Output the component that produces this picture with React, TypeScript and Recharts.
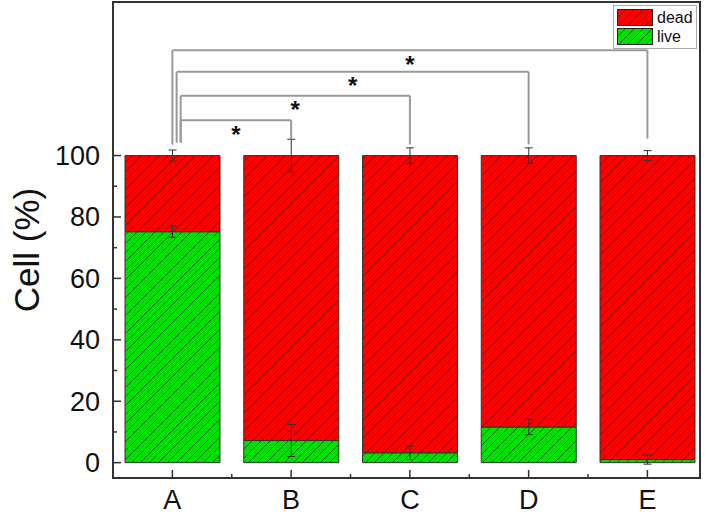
import React from "react";
import {
  BarChart,
  Bar,
  XAxis,
  YAxis,
  ErrorBar,
  ReferenceLine,
  ReferenceArea,
  ReferenceDot,
  Legend,
} from "recharts";

const categories = ["A", "B", "C", "D", "E"];
const liveValues = [75.2, 7.2, 3.2, 11.6, 1.0];
const liveErrors = [1.8, 5.2, 2.2, 2.5, 1.5];
const deadValues = [24.8, 92.8, 96.8, 88.4, 99.0];
const deadErrors = [1.8, 5.3, 2.5, 2.5, 1.6];
const yTicks = [0, 10, 20, 30, 40, 50, 60, 70, 80, 90, 100];
const xTicks = [1, 1.5, 2, 2.5, 3, 3.5, 4, 4.5, 5];

// significance brackets (A vs B..E), in data units
const bracketFrom = [1.07, 1.07, 1.036, 1.0];
const bracketTo = [2, 3, 4, 5];
const bracketLevel = [111.5, 119.5, 127.3, 134.3];
const bracketLeftEnd = [104.2, 104.2, 104.2, 103.6];
const bracketRightEnd = [105.3, 103.6, 103.6, 105.5];
const bracketMarks = ["*", "*", "*", "*"];

const legendNames = ["dead", "live"];
const legendFills = ["url(#hatchRed)", "url(#hatchGreen)"];

const FONT = '"Liberation Sans", Arial, sans-serif';
const AXIS = "#333";
const BRACKET = "#9a9a9a";

const data = categories.map((name, i) => ({
  pos: i + 1,
  name,
  live: liveValues[i],
  liveErr: liveErrors[i],
  dead: deadValues[i],
  deadErr: deadErrors[i],
}));

function XTick(props: any) {
  const { x, y, payload } = props;
  const v = payload.value as number;
  const major = Number.isInteger(v);
  return (
    <g>
      <line x1={x} x2={x} y1={y} y2={y - (major ? 8 : 4)} stroke={AXIS} strokeWidth={1.5} />
      {major && (
        <text x={x} y={y + 31} textAnchor="middle" fontSize={27} fontFamily={FONT} fill="#111">
          {categories[v - 1]}
        </text>
      )}
    </g>
  );
}

function YTick(props: any) {
  const { x, y, payload } = props;
  const v = payload.value as number;
  const major = v % 20 === 0;
  return (
    <g>
      <line x1={x} x2={x + (major ? 8 : 4)} y1={y} y2={y} stroke={AXIS} strokeWidth={1.5} />
      {major && (
        <text x={x - 13} y={y} dy="0.35em" textAnchor="end" fontSize={27} fontFamily={FONT} fill="#111">
          {v}
        </text>
      )}
    </g>
  );
}

function LegendBox() {
  return (
    <div
      style={{
        border: "1px solid #aaa",
        background: "#fff",
        padding: "2px 3px",
        width: 76,
        fontFamily: FONT,
      }}
    >
      {legendNames.map((n, i) => (
        <div key={n} style={{ display: "flex", alignItems: "center", height: 19 }}>
          <svg width={36} height={17} style={{ display: "block" }}>
            <rect x={0.5} y={0.5} width={35} height={16} fill={legendFills[i]} stroke="#222" />
          </svg>
          <span style={{ fontSize: 16, marginLeft: 4, color: "#111" }}>{n}</span>
        </div>
      ))}
    </div>
  );
}

export default function App() {
  return (
    <div style={{ position: "absolute", left: 0, top: 0, fontFamily: FONT }}>
      <BarChart
        width={708}
        height={517}
        data={data}
        margin={{ top: 2, right: 8, bottom: 0, left: 0 }}
      >
        <defs>
          <pattern id="hatchRed" patternUnits="userSpaceOnUse" width={9} height={9}>
            <rect width={9} height={9} fill="#ff0000" />
            <path d="M-2,2 L2,-2 M0,9 L9,0 M7,11 L11,7" stroke="#8a0000" strokeWidth={0.8} />
          </pattern>
          <pattern id="hatchGreen" patternUnits="userSpaceOnUse" width={9} height={9}>
            <rect width={9} height={9} fill="#00e000" />
            <path d="M-2,2 L2,-2 M0,9 L9,0 M7,11 L11,7" stroke="#105010" strokeWidth={0.8} />
          </pattern>
        </defs>
        <XAxis
          type="number"
          dataKey="pos"
          domain={[0.5, 5.443]}
          allowDataOverflow
          ticks={xTicks}
          interval={0}
          tick={<XTick />}
          tickLine={false}
          tickSize={0}
          tickMargin={0}
          height={39}
          axisLine={{ stroke: AXIS, strokeWidth: 2 }}
        />
        <YAxis
          type="number"
          domain={[-5, 150]}
          allowDataOverflow
          ticks={yTicks}
          interval={0}
          tick={<YTick />}
          tickLine={false}
          tickSize={0}
          tickMargin={0}
          width={113}
          axisLine={{ stroke: AXIS, strokeWidth: 2 }}
          label={{
            content: () => (
              <text
                x={27}
                y={250}
                transform="rotate(-90 27 250)"
                textAnchor="middle"
                dy="0.35em"
                fontSize={35}
                fontFamily={FONT}
                fill="#111"
              >
                Cell (%)
              </text>
            ),
          }}
        />
        <ReferenceArea
          x1={0.5}
          x2={5.443}
          y1={-5}
          y2={150}
          fill="none"
          stroke={AXIS}
          strokeWidth={2}
          fillOpacity={0}
        />
        <Bar
          dataKey="live"
          stackId="cells"
          barSize={95}
          fill="url(#hatchGreen)"
          stroke="#333"
          strokeWidth={1}
          isAnimationActive={false}
        >
          <ErrorBar dataKey="liveErr" width={4} stroke="#333" strokeWidth={1} />
        </Bar>
        <Bar
          dataKey="dead"
          stackId="cells"
          barSize={95}
          fill="url(#hatchRed)"
          stroke="#333"
          strokeWidth={1}
          isAnimationActive={false}
        >
          <ErrorBar dataKey="deadErr" width={4} stroke="#333" strokeWidth={1} />
        </Bar>
        {bracketTo.map((to, i) => (
          <ReferenceLine
            key={`bl${i}`}
            segment={[
              { x: bracketFrom[i], y: bracketLeftEnd[i] },
              { x: bracketFrom[i], y: bracketLevel[i] },
            ]}
            stroke={BRACKET}
            strokeWidth={2}
          />
        ))}
        {bracketTo.map((to, i) => (
          <ReferenceLine
            key={`bh${i}`}
            segment={[
              { x: bracketFrom[i], y: bracketLevel[i] },
              { x: to, y: bracketLevel[i] },
            ]}
            stroke={BRACKET}
            strokeWidth={2}
          />
        ))}
        {bracketTo.map((to, i) => (
          <ReferenceLine
            key={`br${i}`}
            segment={[
              { x: to, y: bracketLevel[i] },
              { x: to, y: bracketRightEnd[i] },
            ]}
            stroke={BRACKET}
            strokeWidth={2}
          />
        ))}
        {bracketTo.map((to, i) => (
          <ReferenceDot
            key={`bs${i}`}
            x={(bracketFrom[i] + to) / 2}
            y={bracketLevel[i] - 4.6}
            r={0}
            fill="none"
            stroke="none"
            label={{
              value: bracketMarks[i],
              position: "center",
              fontSize: 24,
              fontWeight: "bold",
              fontFamily: FONT,
              fill: "#111",
            }}
          />
        ))}
        <Legend
          layout="vertical"
          align="center"
          verticalAlign="middle"
          wrapperStyle={{ left: 613, top: 5, width: 84 }}
          content={() => <LegendBox />}
        />
      </BarChart>
    </div>
  );
}
